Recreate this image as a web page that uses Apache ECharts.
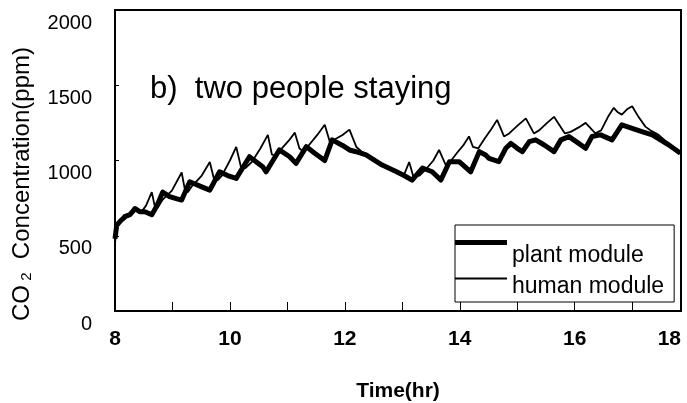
<!DOCTYPE html>
<html>
<head>
<meta charset="utf-8">
<title>CO2 concentration - two people staying</title>
<script src="https://cdn.jsdelivr.net/npm/echarts@6/dist/echarts.min.js"></script>
<style>
  html, body { margin: 0; padding: 0; background: #fff; }
  #chart { width: 687px; height: 403px; }
</style>
</head>
<body>
<div id="chart"></div>
<script>
// time (hr) and CO2 (ppm)
var humanTime = [8.00, 8.03, 8.09, 8.16, 8.21, 8.28, 8.33, 8.38, 8.45, 8.54, 8.64, 8.69, 8.75, 8.83, 8.99,
    9.16, 9.22, 9.27, 9.34, 9.51, 9.65, 9.72, 9.79, 9.86, 10.00, 10.11, 10.19, 10.27, 10.38, 10.53,
    10.66, 10.73, 10.80, 10.88, 11.02, 11.13, 11.21, 11.28, 11.37, 11.52, 11.65, 11.75, 11.82, 11.96,
    12.08, 12.20, 12.29, 12.43, 12.65, 12.90, 13.03, 13.12, 13.19, 13.30, 13.43, 13.54, 13.64, 13.75,
    13.82, 13.95, 14.06, 14.16, 14.23, 14.32, 14.44, 14.55, 14.65, 14.77, 14.86, 15.00, 15.15, 15.29,
    15.38, 15.52, 15.64, 15.83, 15.93, 16.07, 16.19, 16.36, 16.46, 16.58, 16.68, 16.75, 16.82, 16.91,
    17.00, 17.11, 17.23, 17.34, 17.46, 17.64, 17.84];
var humanCO2 = [450, 560, 600, 640, 625, 660, 690, 670, 655, 700, 790, 700, 690, 740, 800,
    920, 800, 790, 830, 900, 990, 880, 870, 900, 1000, 1090, 960, 950, 990, 1080,
    1170, 1040, 1030, 1070, 1130, 1185, 1080, 1060, 1100, 1170, 1237, 1110, 1140, 1170,
    1205, 1090, 1060, 1030, 975, 925, 905, 990, 895, 900, 950, 1000, 1070, 975,
    985, 1050, 1100, 1160, 1090, 1080, 1150, 1210, 1270, 1160, 1180, 1230, 1280, 1180,
    1200, 1250, 1290, 1180, 1190, 1220, 1250, 1180, 1200, 1290, 1350, 1320, 1305, 1340,
    1360, 1290, 1225, 1195, 1170, 1110, 1050];

var plantTime = [8.00, 8.03, 8.10, 8.19, 8.26, 8.35, 8.43, 8.52, 8.64, 8.73, 8.83, 8.95, 9.08, 9.16,
    9.30, 9.51, 9.65, 9.82, 9.96, 10.11, 10.34, 10.57, 10.63, 10.86, 11.04, 11.15, 11.33, 11.47,
    11.65, 11.78, 11.96, 12.08, 12.18, 12.37, 12.65, 12.90, 13.03, 13.17, 13.35, 13.52, 13.67,
    13.82, 13.99, 14.19, 14.34, 14.45, 14.51, 14.68, 14.80, 14.89, 15.00, 15.09, 15.21, 15.32,
    15.47, 15.64, 15.76, 15.90, 16.07, 16.19, 16.30, 16.45, 16.65, 16.82, 17.00, 17.17, 17.35,
    17.64, 17.84];
var plantCO2 = [480, 570, 600, 630, 640, 680, 660, 660, 640, 700, 790, 760, 745, 737,
    859, 825, 803, 925, 900, 881, 1025, 959, 925, 1070, 1025, 981, 1092, 1050,
    1000, 1137, 1100, 1070, 1060, 1037, 970, 925, 900, 870, 950, 925, 870,
    992, 992, 925, 1059, 1037, 1014, 992, 1081, 1114, 1081, 1059, 1125, 1137,
    1103, 1059, 1137, 1159, 1114, 1081, 1159, 1170, 1137, 1237, 1214, 1192, 1170,
    1103, 1048];

var xTickLabels = ['8', '10', '12', '14', '16', '18'];
var yTickLabels = ['0', '500', '1000', '1500', '2000'];
var seriesNames = ['plant module', 'human module'];

function pairs(t, v) {
    var out = [];
    for (var i = 0; i < t.length; i++) out.push([t[i], v[i]]);
    return out;
}

var font = 'Liberation Sans, Arial, sans-serif';
var xMax = 17.85;

// legend keys: a bar near the top of a 52x31 box, the line sits above the text like in the figure
var plantKey = 'path://M0,0H52V5H0ZM0,31h0.01v0.01h-0.01Z';
var humanKey = 'path://M0,6.5H52V8.5H0ZM0,0h0.01v0.01h-0.01ZM0,31h0.01v0.01h-0.01Z';

var chart = echarts.init(document.getElementById('chart'));
var option = {
    animation: false,
    backgroundColor: '#fff',
    textStyle: { fontFamily: font, color: '#000' },
    title: {
        text: 'b)  two people staying',
        left: 150,
        top: 74,
        padding: 0,
        textStyle: { fontSize: 31, fontWeight: 'normal', color: '#000', fontFamily: font }
    },
    legend: {
        orient: 'vertical',
        left: 455,
        top: 225,
        padding: [15, 10, 0, 0],
        itemWidth: 52,
        itemHeight: 31,
        itemGap: 0,
        borderColor: '#000',
        borderWidth: 1,
        backgroundColor: '#fff',
        data: [
            { name: seriesNames[0], icon: plantKey, itemStyle: { color: '#000', borderWidth: 0 } },
            { name: seriesNames[1], icon: humanKey, itemStyle: { color: '#000', borderWidth: 0 } }
        ],
        textStyle: { fontSize: 23, color: '#000', fontFamily: font }
    },
    grid: {
        left: 115, top: 10, right: 6, bottom: 92,
        show: true, borderColor: '#000', borderWidth: 2,
        outerBoundsMode: 'none'
    },
    xAxis: {
        type: 'value',
        min: 8,
        max: xMax,
        interval: 1,
        name: 'Time(hr)',
        nameLocation: 'middle',
        nameGap: 70,
        nameTextStyle: { fontSize: 21, fontWeight: 'bold', color: '#000', fontFamily: font },
        axisLine: { lineStyle: { color: '#000', width: 2 } },
        axisTick: { inside: true, length: 9, lineStyle: { color: '#000', width: 1 } },
        splitLine: { show: false },
        axisLabel: {
            fontSize: 21, fontWeight: 'bold', color: '#000', margin: 18,
            alignMaxLabel: 'right',
            formatter: function (v) {
                if (v >= xMax - 0.01) return xTickLabels[xTickLabels.length - 1];
                var i = xTickLabels.indexOf(String(v));
                return i >= 0 ? xTickLabels[i] : '';
            }
        }
    },
    yAxis: {
        type: 'value',
        min: 0,
        max: 2000,
        interval: 500,
        axisLine: { show: true, lineStyle: { color: '#000', width: 2 } },
        axisTick: { show: true, inside: true, length: 4, lineStyle: { color: '#000', width: 1 } },
        splitLine: { show: false },
        axisLabel: {
            fontSize: 20, color: '#000', margin: 23, verticalAlign: 'top', padding: [3, 0, 0, 0],
            formatter: function (v) { return yTickLabels[v / 500]; }
        }
    },
    graphic: [{
        type: 'text',
        x: 22,
        y: 184,
        rotation: Math.PI / 2,
        style: {
            text: '{a|CO}{b| 2}{a|  Concentration(ppm)}',
            align: 'center',
            verticalAlign: 'middle',
            fill: '#000',
            fontFamily: font,
            rich: {
                a: { fontSize: 24, fontFamily: font, fill: '#000', color: '#000' },
                b: { fontSize: 15, fontFamily: font, fill: '#000', color: '#000', verticalAlign: 'bottom' }
            }
        }
    }],
    series: [{
        name: seriesNames[0],
        type: 'line',
        symbol: 'none',
        showSymbol: false,
        data: pairs(plantTime, plantCO2),
        lineStyle: { color: '#000', width: 5, join: 'round' },
        itemStyle: { color: '#000' }
    }, {
        name: seriesNames[1],
        type: 'line',
        symbol: 'none',
        showSymbol: false,
        data: pairs(humanTime, humanCO2),
        lineStyle: { color: '#000', width: 1.8 },
        itemStyle: { color: '#000' }
    }]
};
chart.setOption(option);
</script>
</body>
</html>
